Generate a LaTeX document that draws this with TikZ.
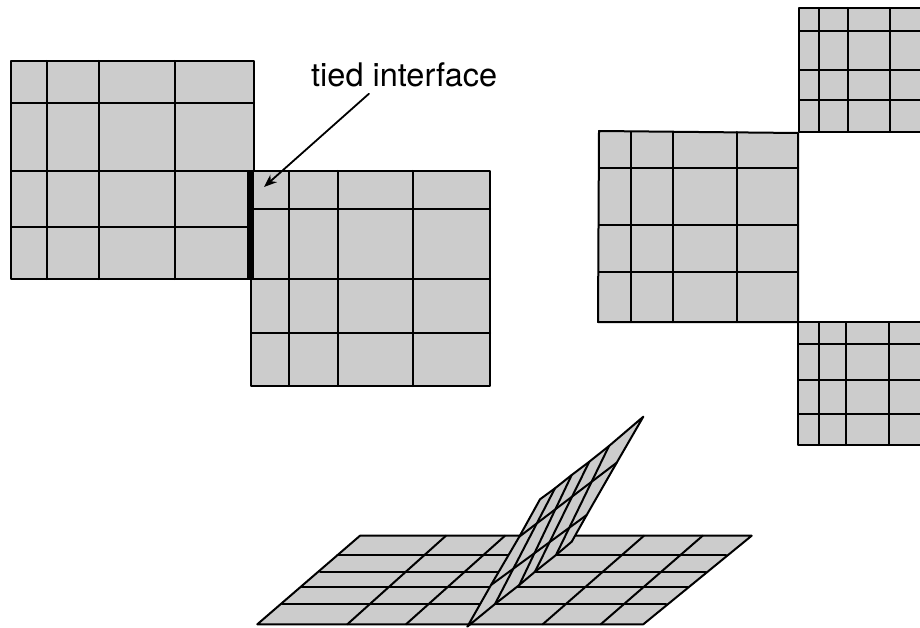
\documentclass[tikz,border=0pt]{standalone}
\usepackage{fontspec}
\setmainfont{TeX Gyre Heros}
\usetikzlibrary{arrows.meta}
\definecolor{meshgray}{HTML}{CCCCCC}

\begin{document}
\begin{tikzpicture}[
    x=1pt, y=-1pt,
    line cap=round, line join=round,
    meshpatch/.style={draw=black, fill=meshgray, line width=2pt},
    meshline/.style={draw=black, line width=2pt},
    tiedbar/.style={draw=black, line width=7pt, line cap=butt},
    tiedarrow/.style={-{Stealth[length=13pt, width=10pt]}, draw=black, line width=1.8pt},
    tiedlabel/.style={anchor=base west, inner sep=0pt, font=\fontsize{32.5}{36}\selectfont}
  ]
    \useasboundingbox (0,0) rectangle (920,628);
    \clip (0,0) rectangle (920,628);

    % Bloque superior izquierdo
    \draw[meshpatch] (11,61) rectangle (254,279);
    \foreach \xval in {47,99,175} \draw[meshline] (\xval,61) -- (\xval,279);
    \foreach \yval in {103,171,227} \draw[meshline] (11,\yval) -- (254,\yval);

    % Bloque inferior derecho
    \draw[meshpatch] (251,171) rectangle (490,386);
    \foreach \xval in {289,338,413} \draw[meshline] (\xval,171) -- (\xval,386);
    \foreach \yval in {209,279,333} \draw[meshline] (251,\yval) -- (490,\yval);

    % Interfaz
    \draw[tiedbar] (250,171) -- (250,279);
    \node[tiedlabel] (TiedLabel) at (311,86.7) {tied interface};
    \coordinate (TiedEnd) at (264,187);
    \draw[tiedarrow] ([xshift=58pt, yshift=-6.3pt]TiedLabel.south west) -- (TiedEnd);

    % Bloque central a la derecha
    \draw[meshpatch] (599,131) -- (798,133) -- (798,322) -- (598,322) -- cycle;
    \foreach \xval in {631,673,737} \draw[meshline] (\xval,132) -- (\xval,322);
    \foreach \yval in {168,225,272} \draw[meshline] (599,\yval) -- (798,\yval);

    % Bloque arriba a la derecha
    \draw[meshpatch] (799,8) rectangle (930,132);
    \foreach \xval in {819,848,890} \draw[meshline] (\xval,8) -- (\xval,132);
    \foreach \yval in {31,70,100} \draw[meshline] (799,\yval) -- (930,\yval);

    % Bloque abajo a la derecha
    \draw[meshpatch] (798,322) rectangle (930,445);
    \foreach \xval in {819,846,889} \draw[meshline] (\xval,322) -- (\xval,445);
    \foreach \yval in {344,380,414} \draw[meshline] (798,\yval) -- (930,\yval);

    % Placa base en perspectiva
    \draw[meshpatch] (360,535.7) -- (751.7,535.7) -- (643.3,624.3) -- (257.3,624.3) -- cycle;
    \foreach \xa/\xb/\yval in {337.3/726/555.3, 320/706/571.7, 301.7/687.7/587, 282.3/666/604.3}
      \draw[meshline] (\xa,\yval) -- (\xb,\yval);
    \foreach \xa/\xb in {347.3/446, 406/505, 542.7/644, 600.7/702.7}
      \draw[meshline] (\xa,624.3) -- (\xb,535.7);

    % Aleta
    \draw[meshpatch] (467.3,626.7) -- (491,585) -- (519.3,536.7) -- (540,499.3) -- (555,488.3)
      -- (571.7,475) -- (589.3,461.7) -- (609,446) -- (643.3,416.7) -- (616.7,462.7)
      -- (586.7,515) -- (571.7,541.7) -- (556,555) -- (535,571.7) -- (519.3,585) -- (495,604) -- cycle;
    \draw[meshline] (495,604) -- (555,488.3);
    \draw[meshline] (519.3,585) -- (571.7,475);
    \draw[meshline] (535,571.7) -- (589.3,461.7);
    \draw[meshline] (556,555) -- (609,446);
    \draw[meshline] (491,585) -- (586.7,515);
    \draw[meshline] (519.3,536.7) -- (616.7,462.7);

  \end{tikzpicture}
\end{document}
